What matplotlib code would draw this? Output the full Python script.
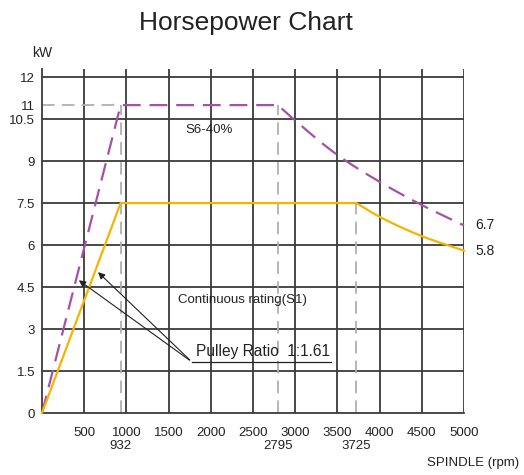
import matplotlib
matplotlib.use("Agg")
import matplotlib.pyplot as plt
import numpy as np
from matplotlib import font_manager

names = {f.name for f in font_manager.fontManager.ttflist}
FONT = ['Liberation Sans Narrow', 'Liberation Sans', 'DejaVu Sans'] if 'Liberation Sans Narrow' in names else ['Liberation Sans', 'DejaVu Sans']
plt.rcParams['font.family'] = FONT

# Data
s6_rpm = [0, 932, 2795, 3000, 3500, 4000, 4500, 5000]
s6_kw = [0, 11, 11, 10.45, 9.22, 8.26, 7.43, 6.7]
s1_rpm = [0, 932, 3725, 4000, 4500, 5000]
s1_kw = [0, 7.5, 7.5, 7.01, 6.32, 5.8]
x_ticks = [500, 1000, 1500, 2000, 2500, 3000, 3500, 4000, 4500, 5000]
y_ticks = [0, 1.5, 3, 4.5, 6, 7.5, 9, 10.5, 11, 12]
y_grid = [1.5, 3, 4.5, 6, 7.5, 9, 10.5, 12]
break_rpm = [932, 2795, 3725]
break_kw = [11, 11, 7.5]
end_labels = ['6.7', '5.8']

PURPLE = '#a651a6'
ORANGE = '#f5b400'
GRID = '#3a3a3a'
DGRAY = '#b0b0b0'
TXT = '#222222'


def pchip(xs, ys, n=120):
    xs = np.asarray(xs, float); ys = np.asarray(ys, float)
    h = np.diff(xs); d = np.diff(ys) / h
    m = np.zeros_like(ys)
    m[0] = d[0]; m[-1] = d[-1]
    for k in range(1, len(xs) - 1):
        if d[k-1] * d[k] <= 0:
            m[k] = 0
        else:
            w1 = 2*h[k] + h[k-1]; w2 = h[k] + 2*h[k-1]
            m[k] = (w1 + w2) / (w1/d[k-1] + w2/d[k])
    fx = np.linspace(xs[0], xs[-1], n)
    fy = np.empty_like(fx)
    for i, x in enumerate(fx):
        k = min(np.searchsorted(xs, x, side='right') - 1, len(xs) - 2)
        t = (x - xs[k]) / h[k]
        h00 = 2*t**3 - 3*t**2 + 1; h10 = t**3 - 2*t**2 + t
        h01 = -2*t**3 + 3*t**2; h11 = t**3 - t**2
        fy[i] = h00*ys[k] + h10*h[k]*m[k] + h01*ys[k+1] + h11*h[k]*m[k+1]
    return fx, fy


def curve(xs, ys, start):
    fx, fy = pchip(xs[start:], ys[start:])
    return list(xs[:start]) + list(fx), list(ys[:start]) + list(fy)


fig = plt.figure(figsize=(5.24, 4.75), dpi=100)
ax = fig.add_axes([42/524, 62/475, 422/524, (413-69)/475])
ax.set_xlim(0, 5000)
ax.set_ylim(0, 12.29)

for x in x_ticks:
    ax.axvline(x, color=GRID, lw=1.3, zorder=1)
for y in y_grid:
    ax.axhline(y, color=GRID, lw=1.3, zorder=1)

for s in ['top', 'right']:
    ax.spines[s].set_visible(False)
for s in ['left', 'bottom']:
    ax.spines[s].set_color(GRID)
    ax.spines[s].set_linewidth(1.3)

# Gray dashed reference lines
for xr, yr in zip(break_rpm, break_kw):
    ax.plot([xr, xr], [0, yr], color=DGRAY, lw=1.3, ls=(0, (7, 4)), zorder=2)
ax.plot([0, break_rpm[0]], [11, 11], color=DGRAY, lw=1.3, ls=(0, (7, 4)), zorder=2)

px, py = curve(s6_rpm, s6_kw, 2)
ax.plot(px, py, color=PURPLE, lw=1.6, ls=(0, (8, 4)), zorder=3, clip_on=False)
ox, oy = curve(s1_rpm, s1_kw, 2)
ax.plot(ox, oy, color=ORANGE, lw=1.6, zorder=3, clip_on=False)

ax.set_xticks(x_ticks)
ax.set_xticklabels([str(v) for v in x_ticks])
ax.set_yticks(y_ticks)
ax.set_yticklabels(['0', '1.5', '3', '4.5', '6', '7.5', '9', '10.5', '11', '12'])
ax.tick_params(length=0, labelsize=9.5, pad=5, colors=TXT)
ax.tick_params(axis='x', pad=10)

for xr in break_rpm:
    ax.text(xr, -1.18, str(xr), ha='center', va='center', fontsize=9.5, color=TXT)

ax.text(5130, s6_kw[-1], end_labels[0], ha='left', va='center', fontsize=10, color=TXT)
ax.text(5130, s1_kw[-1], end_labels[1], ha='left', va='center', fontsize=10, color=TXT)

ax.text(1700, 10.1, 'S6-40%', ha='left', va='center', fontsize=9.5, color=TXT)
ax.text(1610, 4.05, 'Continuous rating(S1)', ha='left', va='center', fontsize=9.5, color=TXT)
ax.text(1830, 2.18, 'Pulley Ratio  1:1.61', ha='left', va='center', fontsize=11.2, color=TXT)
ax.plot([1774, 3424], [1.83, 1.83], color=TXT, lw=0.9, zorder=4)

ax.annotate('', xy=(410, 4.8), xytext=(1774, 1.83),
            arrowprops=dict(arrowstyle='-|>', color=TXT, lw=0.8, mutation_scale=10), zorder=5)
ax.annotate('', xy=(640, 5.1), xytext=(1774, 1.83),
            arrowprops=dict(arrowstyle='-|>', color=TXT, lw=0.8, mutation_scale=10), zorder=5)

fig.text(246/524, 1 - 23/475, 'Horsepower Chart', ha='center', va='center', fontsize=19, color=TXT)
fig.text(42/524, 1 - 53/475, 'kW', ha='center', va='center', fontsize=10, color=TXT)
fig.text(519/524, 1 - 463/475, 'SPINDLE (rpm)', ha='right', va='center', fontsize=9.5, color=TXT)

fig.savefig('out.png', dpi=100)
